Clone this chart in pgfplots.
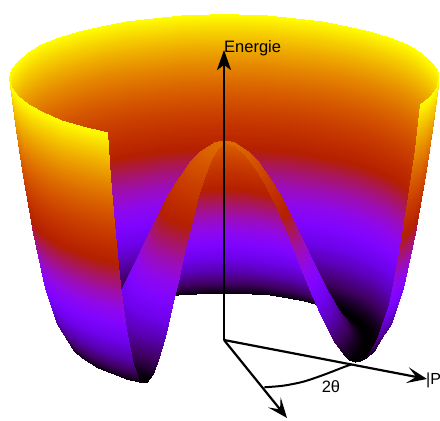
\documentclass[border=0pt]{standalone}
\usepackage{fontspec}
\setmainfont{Liberation Sans}
\usepackage{pgfplots}
\usepackage{pgfplotstable}
\pgfplotsset{compat=1.18}
\usetikzlibrary{arrows.meta}
% one row per grid point: angle (deg), radius, energy
\pgfplotstableread{
t r z
-26 0 208
-26 12 205.3
-26 24 196.9
-26 36 183.4
-26 48 165
-26 60 143.4
-26 72 118.1
-26 84 91.4
-26 96 64.8
-26 108 40.2
-26 120 19.6
-26 132 5.4
-26 138 1.4
-26 144 0
-26 150 1.5
-26 156 6.3
-26 168 27.4
-26 180 66.4
-26 190 115.3
-26 200 181.2
-26 206 230
-26 211 276.3
-18 0 208
-18 12 205.3
-18 24 196.9
-18 36 183.4
-18 48 165
-18 60 143.4
-18 72 118.1
-18 84 91.4
-18 96 64.8
-18 108 40.2
-18 120 19.6
-18 132 5.4
-18 138 1.4
-18 144 0
-18 150 1.5
-18 156 6.3
-18 168 27.4
-18 180 66.4
-18 190 115.3
-18 200 181.2
-18 206 230
-18 211 276.3
-10 0 208
-10 12 205.3
-10 24 196.9
-10 36 183.4
-10 48 165
-10 60 143.4
-10 72 118.1
-10 84 91.4
-10 96 64.8
-10 108 40.2
-10 120 19.6
-10 132 5.4
-10 138 1.4
-10 144 0
-10 150 1.5
-10 156 6.3
-10 168 27.4
-10 180 66.4
-10 190 115.3
-10 200 181.2
-10 206 230
-10 211 276.3
-2 0 208
-2 12 205.3
-2 24 196.9
-2 36 183.4
-2 48 165
-2 60 143.4
-2 72 118.1
-2 84 91.4
-2 96 64.8
-2 108 40.2
-2 120 19.6
-2 132 5.4
-2 138 1.4
-2 144 0
-2 150 1.5
-2 156 6.3
-2 168 27.4
-2 180 66.4
-2 190 115.3
-2 200 181.2
-2 206 230
-2 211 276.3
6 0 208
6 12 205.3
6 24 196.9
6 36 183.4
6 48 165
6 60 143.4
6 72 118.1
6 84 91.4
6 96 64.8
6 108 40.2
6 120 19.6
6 132 5.4
6 138 1.4
6 144 0
6 150 1.5
6 156 6.3
6 168 27.4
6 180 66.4
6 190 115.3
6 200 181.2
6 206 230
6 211 276.3
14 0 208
14 12 205.3
14 24 196.9
14 36 183.4
14 48 165
14 60 143.4
14 72 118.1
14 84 91.4
14 96 64.8
14 108 40.2
14 120 19.6
14 132 5.4
14 138 1.4
14 144 0
14 150 1.5
14 156 6.3
14 168 27.4
14 180 66.4
14 190 115.3
14 200 181.2
14 206 230
14 211 276.3
22 0 208
22 12 205.3
22 24 196.9
22 36 183.4
22 48 165
22 60 143.4
22 72 118.1
22 84 91.4
22 96 64.8
22 108 40.2
22 120 19.6
22 132 5.4
22 138 1.4
22 144 0
22 150 1.5
22 156 6.3
22 168 27.4
22 180 66.4
22 190 115.3
22 200 181.2
22 206 230
22 211 276.3
30 0 208
30 12 205.3
30 24 196.9
30 36 183.4
30 48 165
30 60 143.4
30 72 118.1
30 84 91.4
30 96 64.8
30 108 40.2
30 120 19.6
30 132 5.4
30 138 1.4
30 144 0
30 150 1.5
30 156 6.3
30 168 27.4
30 180 66.4
30 190 115.3
30 200 181.2
30 206 230
30 211 276.3
38 0 208
38 12 205.3
38 24 196.9
38 36 183.4
38 48 165
38 60 143.4
38 72 118.1
38 84 91.4
38 96 64.8
38 108 40.2
38 120 19.6
38 132 5.4
38 138 1.4
38 144 0
38 150 1.5
38 156 6.3
38 168 27.4
38 180 66.4
38 190 115.3
38 200 181.2
38 206 230
38 211 276.3
46 0 208
46 12 205.3
46 24 196.9
46 36 183.4
46 48 165
46 60 143.4
46 72 118.1
46 84 91.4
46 96 64.8
46 108 40.2
46 120 19.6
46 132 5.4
46 138 1.4
46 144 0
46 150 1.5
46 156 6.3
46 168 27.4
46 180 66.4
46 190 115.3
46 200 181.2
46 206 230
46 211 276.3
54 0 208
54 12 205.3
54 24 196.9
54 36 183.4
54 48 165
54 60 143.4
54 72 118.1
54 84 91.4
54 96 64.8
54 108 40.2
54 120 19.6
54 132 5.4
54 138 1.4
54 144 0
54 150 1.5
54 156 6.3
54 168 27.4
54 180 66.4
54 190 115.3
54 200 181.2
54 206 230
54 211 276.3
62 0 208
62 12 205.3
62 24 196.9
62 36 183.4
62 48 165
62 60 143.4
62 72 118.1
62 84 91.4
62 96 64.8
62 108 40.2
62 120 19.6
62 132 5.4
62 138 1.4
62 144 0
62 150 1.5
62 156 6.3
62 168 27.4
62 180 66.4
62 190 115.3
62 200 181.2
62 206 230
62 211 276.3
70 0 208
70 12 205.3
70 24 196.9
70 36 183.4
70 48 165
70 60 143.4
70 72 118.1
70 84 91.4
70 96 64.8
70 108 40.2
70 120 19.6
70 132 5.4
70 138 1.4
70 144 0
70 150 1.5
70 156 6.3
70 168 27.4
70 180 66.4
70 190 115.3
70 200 181.2
70 206 230
70 211 276.3
78 0 208
78 12 205.3
78 24 196.9
78 36 183.4
78 48 165
78 60 143.4
78 72 118.1
78 84 91.4
78 96 64.8
78 108 40.2
78 120 19.6
78 132 5.4
78 138 1.4
78 144 0
78 150 1.5
78 156 6.3
78 168 27.4
78 180 66.4
78 190 115.3
78 200 181.2
78 206 230
78 211 276.3
86 0 208
86 12 205.3
86 24 196.9
86 36 183.4
86 48 165
86 60 143.4
86 72 118.1
86 84 91.4
86 96 64.8
86 108 40.2
86 120 19.6
86 132 5.4
86 138 1.4
86 144 0
86 150 1.5
86 156 6.3
86 168 27.4
86 180 66.4
86 190 115.3
86 200 181.2
86 206 230
86 211 276.3
94 0 208
94 12 205.3
94 24 196.9
94 36 183.4
94 48 165
94 60 143.4
94 72 118.1
94 84 91.4
94 96 64.8
94 108 40.2
94 120 19.6
94 132 5.4
94 138 1.4
94 144 0
94 150 1.5
94 156 6.3
94 168 27.4
94 180 66.4
94 190 115.3
94 200 181.2
94 206 230
94 211 276.3
102 0 208
102 12 205.3
102 24 196.9
102 36 183.4
102 48 165
102 60 143.4
102 72 118.1
102 84 91.4
102 96 64.8
102 108 40.2
102 120 19.6
102 132 5.4
102 138 1.4
102 144 0
102 150 1.5
102 156 6.3
102 168 27.4
102 180 66.4
102 190 115.3
102 200 181.2
102 206 230
102 211 276.3
110 0 208
110 12 205.3
110 24 196.9
110 36 183.4
110 48 165
110 60 143.4
110 72 118.1
110 84 91.4
110 96 64.8
110 108 40.2
110 120 19.6
110 132 5.4
110 138 1.4
110 144 0
110 150 1.5
110 156 6.3
110 168 27.4
110 180 66.4
110 190 115.3
110 200 181.2
110 206 230
110 211 276.3
118 0 208
118 12 205.3
118 24 196.9
118 36 183.4
118 48 165
118 60 143.4
118 72 118.1
118 84 91.4
118 96 64.8
118 108 40.2
118 120 19.6
118 132 5.4
118 138 1.4
118 144 0
118 150 1.5
118 156 6.3
118 168 27.4
118 180 66.4
118 190 115.3
118 200 181.2
118 206 230
118 211 276.3
126 0 208
126 12 205.3
126 24 196.9
126 36 183.4
126 48 165
126 60 143.4
126 72 118.1
126 84 91.4
126 96 64.8
126 108 40.2
126 120 19.6
126 132 5.4
126 138 1.4
126 144 0
126 150 1.5
126 156 6.3
126 168 27.4
126 180 66.4
126 190 115.3
126 200 181.2
126 206 230
126 211 276.3
134 0 208
134 12 205.3
134 24 196.9
134 36 183.4
134 48 165
134 60 143.4
134 72 118.1
134 84 91.4
134 96 64.8
134 108 40.2
134 120 19.6
134 132 5.4
134 138 1.4
134 144 0
134 150 1.5
134 156 6.3
134 168 27.4
134 180 66.4
134 190 115.3
134 200 181.2
134 206 230
134 211 276.3
142 0 208
142 12 205.3
142 24 196.9
142 36 183.4
142 48 165
142 60 143.4
142 72 118.1
142 84 91.4
142 96 64.8
142 108 40.2
142 120 19.6
142 132 5.4
142 138 1.4
142 144 0
142 150 1.5
142 156 6.3
142 168 27.4
142 180 66.4
142 190 115.3
142 200 181.2
142 206 230
142 211 276.3
150 0 208
150 12 205.3
150 24 196.9
150 36 183.4
150 48 165
150 60 143.4
150 72 118.1
150 84 91.4
150 96 64.8
150 108 40.2
150 120 19.6
150 132 5.4
150 138 1.4
150 144 0
150 150 1.5
150 156 6.3
150 168 27.4
150 180 66.4
150 190 115.3
150 200 181.2
150 206 230
150 211 276.3
158 0 208
158 12 205.3
158 24 196.9
158 36 183.4
158 48 165
158 60 143.4
158 72 118.1
158 84 91.4
158 96 64.8
158 108 40.2
158 120 19.6
158 132 5.4
158 138 1.4
158 144 0
158 150 1.5
158 156 6.3
158 168 27.4
158 180 66.4
158 190 115.3
158 200 181.2
158 206 230
158 211 276.3
166 0 208
166 12 205.3
166 24 196.9
166 36 183.4
166 48 165
166 60 143.4
166 72 118.1
166 84 91.4
166 96 64.8
166 108 40.2
166 120 19.6
166 132 5.4
166 138 1.4
166 144 0
166 150 1.5
166 156 6.3
166 168 27.4
166 180 66.4
166 190 115.3
166 200 181.2
166 206 230
166 211 276.3
174 0 208
174 12 205.3
174 24 196.9
174 36 183.4
174 48 165
174 60 143.4
174 72 118.1
174 84 91.4
174 96 64.8
174 108 40.2
174 120 19.6
174 132 5.4
174 138 1.4
174 144 0
174 150 1.5
174 156 6.3
174 168 27.4
174 180 66.4
174 190 115.3
174 200 181.2
174 206 230
174 211 276.3
182 0 208
182 12 205.3
182 24 196.9
182 36 183.4
182 48 165
182 60 143.4
182 72 118.1
182 84 91.4
182 96 64.8
182 108 40.2
182 120 19.6
182 132 5.4
182 138 1.4
182 144 0
182 150 1.5
182 156 6.3
182 168 27.4
182 180 66.4
182 190 115.3
182 200 181.2
182 206 230
182 211 276.3
190 0 208
190 12 205.3
190 24 196.9
190 36 183.4
190 48 165
190 60 143.4
190 72 118.1
190 84 91.4
190 96 64.8
190 108 40.2
190 120 19.6
190 132 5.4
190 138 1.4
190 144 0
190 150 1.5
190 156 6.3
190 168 27.4
190 180 66.4
190 190 115.3
190 200 181.2
190 206 230
190 211 276.3
198 0 208
198 12 205.3
198 24 196.9
198 36 183.4
198 48 165
198 60 143.4
198 72 118.1
198 84 91.4
198 96 64.8
198 108 40.2
198 120 19.6
198 132 5.4
198 138 1.4
198 144 0
198 150 1.5
198 156 6.3
198 168 27.4
198 180 66.4
198 190 115.3
198 200 181.2
198 206 230
198 211 276.3
206 0 208
206 12 205.3
206 24 196.9
206 36 183.4
206 48 165
206 60 143.4
206 72 118.1
206 84 91.4
206 96 64.8
206 108 40.2
206 120 19.6
206 132 5.4
206 138 1.4
206 144 0
206 150 1.5
206 156 6.3
206 168 27.4
206 180 66.4
206 190 115.3
206 200 181.2
206 206 230
206 211 276.3
214 0 208
214 12 205.3
214 24 196.9
214 36 183.4
214 48 165
214 60 143.4
214 72 118.1
214 84 91.4
214 96 64.8
214 108 40.2
214 120 19.6
214 132 5.4
214 138 1.4
214 144 0
214 150 1.5
214 156 6.3
214 168 27.4
214 180 66.4
214 190 115.3
214 200 181.2
214 206 230
214 211 276.3
222 0 208
222 12 205.3
222 24 196.9
222 36 183.4
222 48 165
222 60 143.4
222 72 118.1
222 84 91.4
222 96 64.8
222 108 40.2
222 120 19.6
222 132 5.4
222 138 1.4
222 144 0
222 150 1.5
222 156 6.3
222 168 27.4
222 180 66.4
222 190 115.3
222 200 181.2
222 206 230
222 211 276.3
230 0 208
230 12 205.3
230 24 196.9
230 36 183.4
230 48 165
230 60 143.4
230 72 118.1
230 84 91.4
230 96 64.8
230 108 40.2
230 120 19.6
230 132 5.4
230 138 1.4
230 144 0
230 150 1.5
230 156 6.3
230 168 27.4
230 180 66.4
230 190 115.3
230 200 181.2
230 206 230
230 211 276.3
238 0 208
238 12 205.3
238 24 196.9
238 36 183.4
238 48 165
238 60 143.4
238 72 118.1
238 84 91.4
238 96 64.8
238 108 40.2
238 120 19.6
238 132 5.4
238 138 1.4
238 144 0
238 150 1.5
238 156 6.3
238 168 27.4
238 180 66.4
238 190 115.3
238 200 181.2
238 206 230
238 211 276.3
}\hatgrid
% perspective scale of a grid point, camera 20 deg above the floor
\newcommand{\persp}{(5730/(5730+0.94*\thisrow{r}*sin(\thisrow{t})-0.342*\thisrow{z}))}
\begin{document}
\begin{tikzpicture}[x=1pt,y=1pt]
\useasboundingbox (0,0) rectangle (440,421);
\begin{axis}[anchor=origin,at={(224pt,81pt)},
  x={(1pt,0pt)},y={(0pt,0.342pt)},z={(0pt,0.94pt)},
  xmin=-230,xmax=230,ymin=-240,ymax=240,zmin=-60,zmax=330,
  hide axis,clip=false,
  colormap={gp}{rgb=(0,0,0) rgb=(.25,0,.38) rgb=(.354,.002,.707) rgb=(.433,.007,.924)
    rgb=(.5,.016,1) rgb=(.559,.031,.924) rgb=(.612,.053,.707) rgb=(.661,.084,.383)
    rgb=(.707,.125,0) rgb=(.75,.178,0) rgb=(.79,.244,0) rgb=(.829,.325,0)
    rgb=(.866,.422,0) rgb=(.901,.536,0) rgb=(.935,.67,0) rgb=(.968,.824,0) rgb=(1,1,0)},
  point meta min=0,point meta max=276.3]
\addplot3[surf,shader=interp,z buffer=sort,mesh/rows=34,mesh/cols=22,point meta=\thisrow{z}]
  table[x expr={\thisrow{r}*cos(\thisrow{t})*\persp},
        y expr={\thisrow{r}*sin(\thisrow{t})*\persp},
        z expr={\thisrow{z}*\persp}] {\hatgrid};
\addplot3[black,line width=2.4pt,-{Stealth[length=20pt,width=14pt,inset=5pt]}] coordinates {(0,0,0)(0,0,308.5)};
\addplot3[black,line width=2.2pt,-{Stealth[length=20pt,width=16pt,inset=9pt]}] coordinates {(0,0,0)(203,-114,0)};
\addplot3[black,line width=2.2pt,-{Stealth[length=20pt,width=16pt,inset=9pt]}] coordinates {(0,0,0)(63,-228,0)};
\addplot3[black,line width=2pt,smooth] coordinates {(40.3,-138.3,0)(59.3,-133.6,0)(79.3,-121.9,0)(99.3,-102.3,0)(119.3,-79.8,0)(127.7,-71,0)};
\node[anchor=west,inner sep=0pt,font=\fontsize{16.5}{16.5}\selectfont] at (axis cs:0,0,310.6) {Energie};
\node[inner sep=0pt,font=\fontsize{16.5}{16.5}\selectfont] at (axis cs:107,-137.4,0) {2θ};
\node[anchor=west,inner sep=0pt,font=\fontsize{16}{16}\selectfont] at (axis cs:202,-117,0) {|P};
\end{axis}
\end{tikzpicture}
\end{document}
